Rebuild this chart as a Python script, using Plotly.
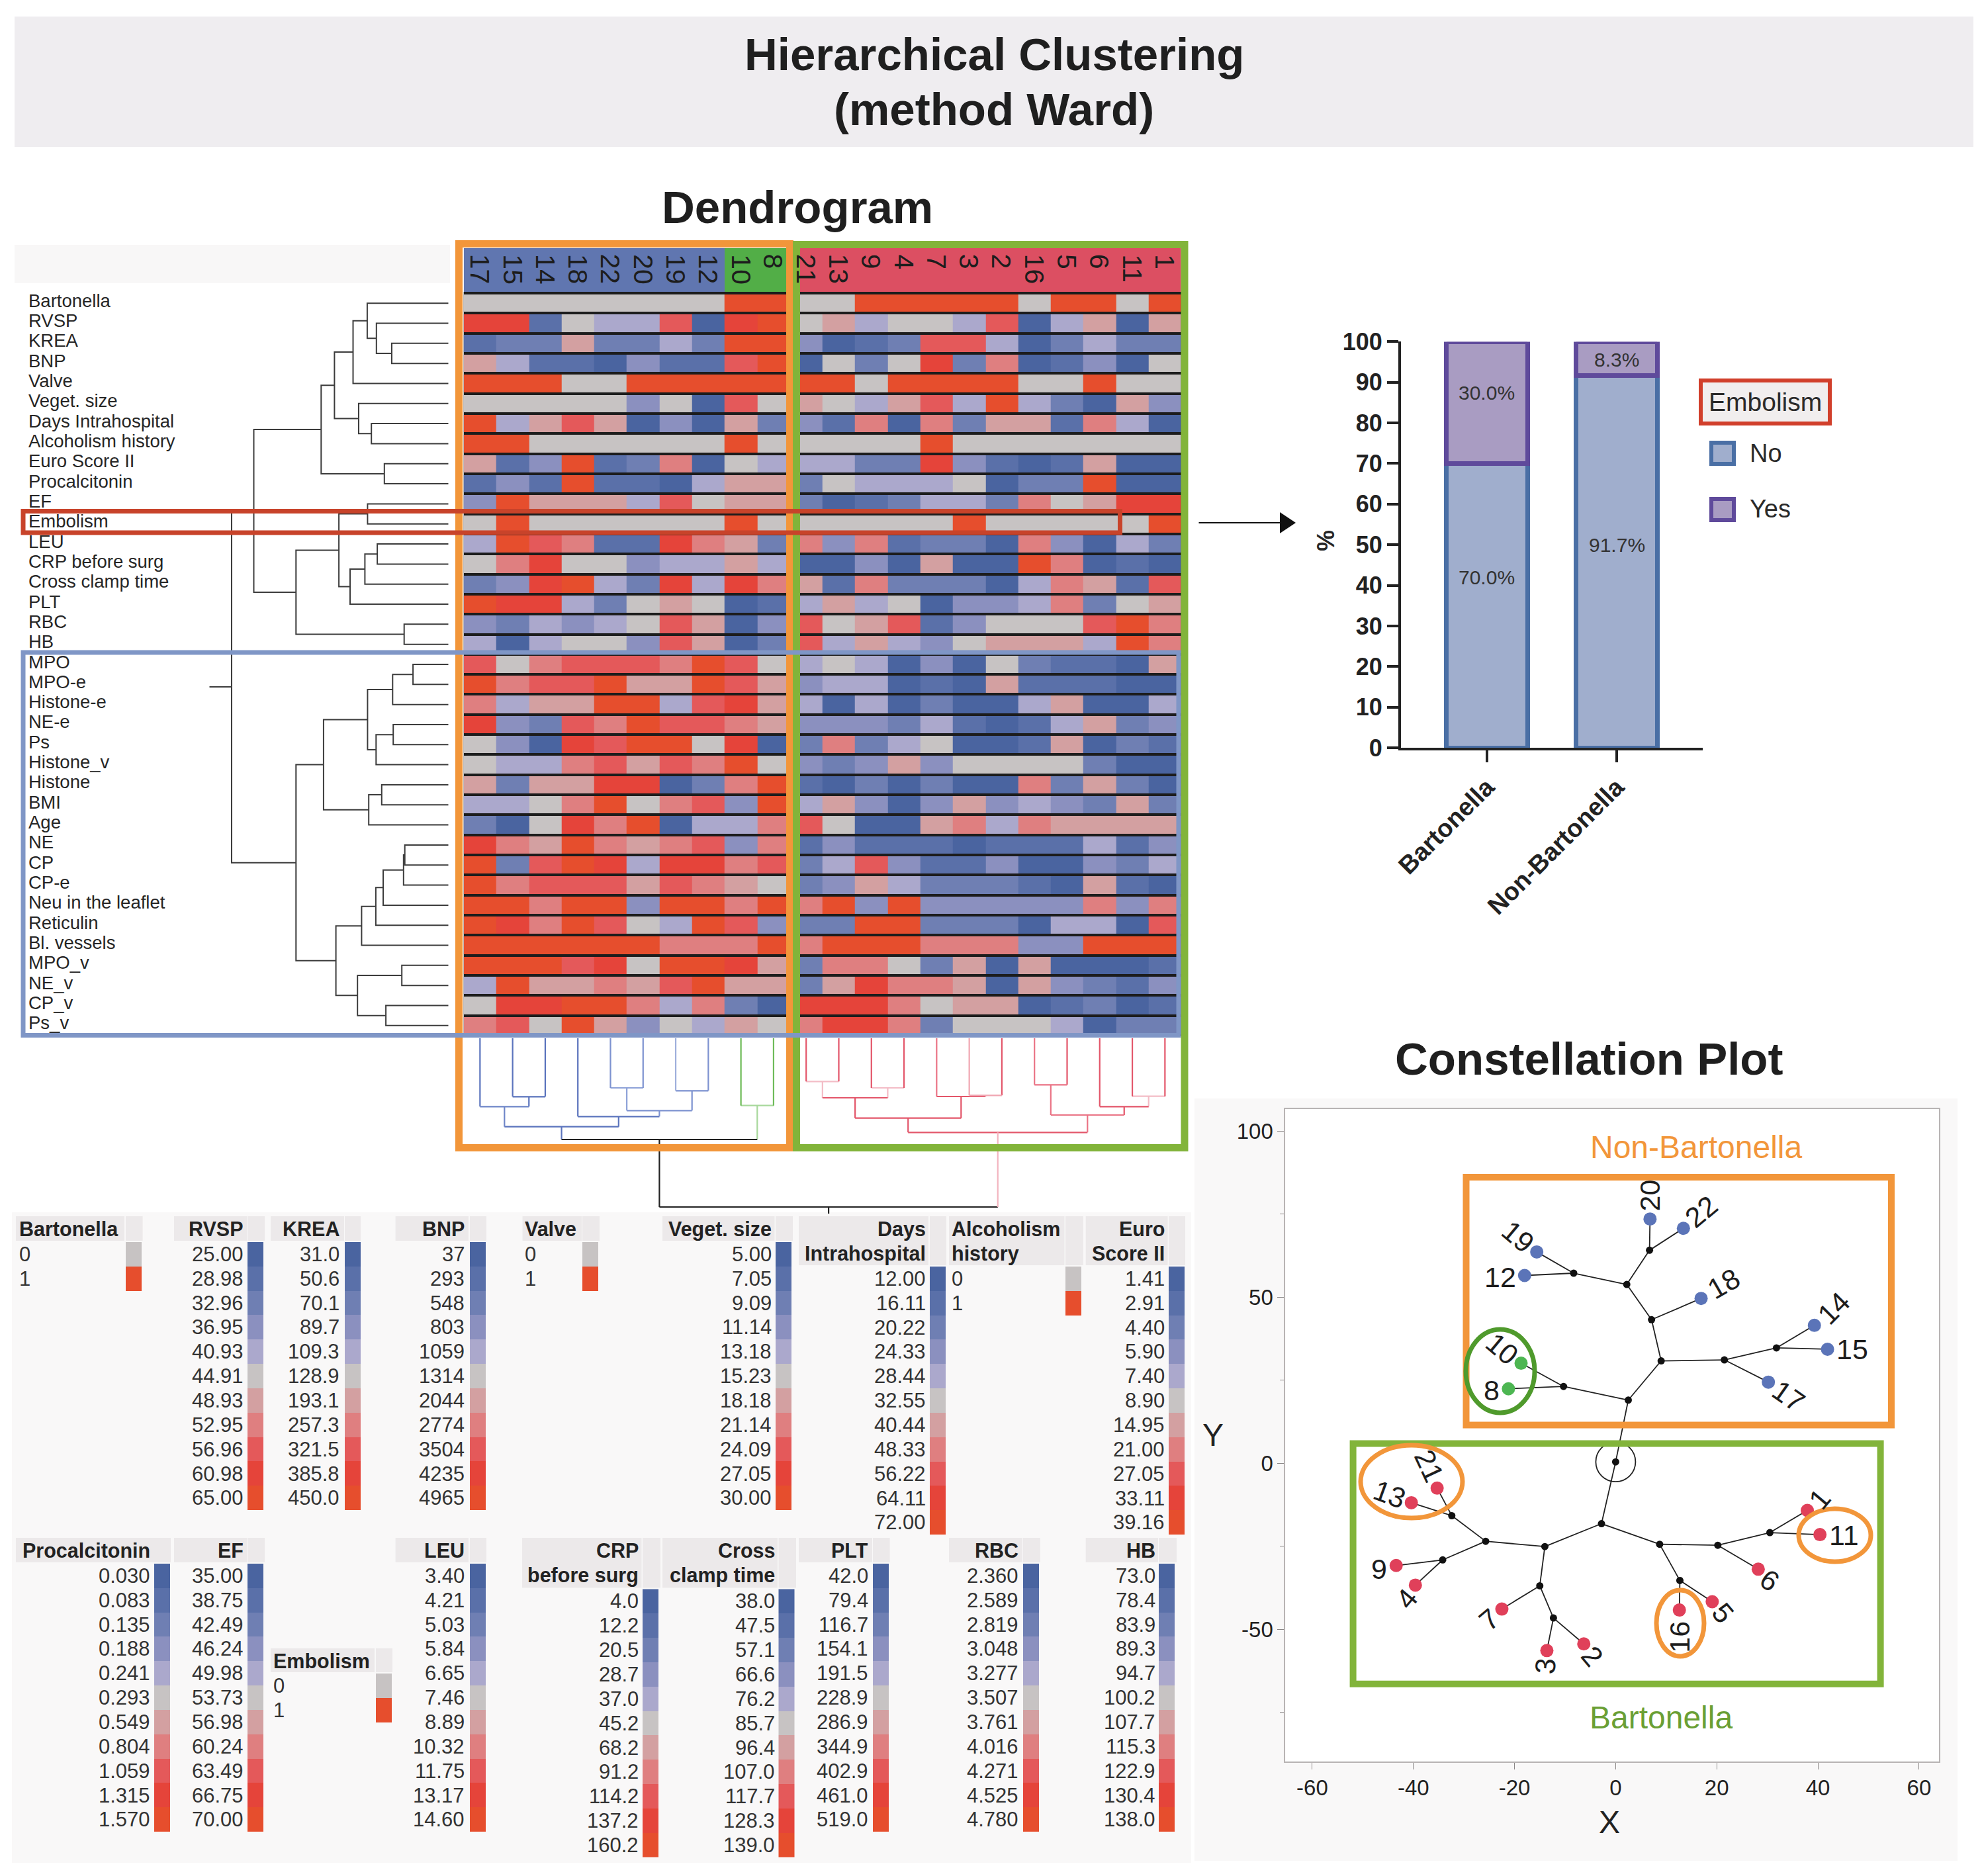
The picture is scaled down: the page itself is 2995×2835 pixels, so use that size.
import plotly.graph_objects as go

W, H = 2995, 2835
FONT = "Liberation Sans"
INK = "#262626"

# ---------- DATA ----------
PALETTE = ["#4a64a0", "#5a70a9", "#6f7fb3", "#8b90bf", "#aba8cc", "#c7c3c3",
           "#d3a0a1", "#df7f80", "#e4595a", "#e5443a", "#e64e2d"]

PATIENTS = ["17", "15", "14", "18", "22", "20", "19", "12", "10", "8",
            "21", "13", "9", "4", "7", "3", "2", "16", "5", "6", "11", "1"]
PATIENT_GROUP = [0, 0, 0, 0, 0, 0, 0, 0, 1, 1, 2, 2, 2, 2, 2, 2, 2, 2, 2, 2, 2, 2]

VARIABLES = ["Bartonella", "RVSP", "KREA", "BNP", "Valve", "Veget. size", "Days Intrahospital",
             "Alcoholism history", "Euro Score II", "Procalcitonin", "EF", "Embolism", "LEU",
             "CRP before surg", "Cross clamp time", "PLT", "RBC", "HB", "MPO", "MPO-e", "Histone-e",
             "NE-e", "Ps", "Histone_v", "Histone", "BMI", "Age", "NE", "CP", "CP-e",
             "Neu in the leaflet", "Reticulin", "Bl. vessels", "MPO_v", "NE_v", "CP_v", "Ps_v"]

LEVELS = [
    [5, 5, 5, 5, 5, 5, 5, 5, 10, 10, 5, 5, 10, 10, 10, 10, 10, 5, 10, 10, 5, 10],
    [9, 9, 1, 5, 4, 4, 8, 0, 9, 10, 5, 6, 4, 5, 5, 4, 8, 0, 4, 6, 0, 6],
    [1, 2, 2, 6, 2, 2, 4, 2, 10, 10, 3, 0, 1, 2, 8, 8, 4, 0, 2, 4, 2, 2],
    [6, 4, 1, 1, 0, 3, 1, 1, 8, 10, 0, 5, 2, 5, 9, 2, 7, 0, 1, 3, 0, 5],
    [10, 10, 10, 5, 5, 10, 10, 10, 10, 10, 10, 10, 5, 10, 10, 10, 10, 5, 5, 10, 5, 5],
    [5, 5, 5, 5, 5, 3, 5, 0, 8, 5, 6, 5, 4, 6, 8, 4, 10, 4, 2, 0, 6, 3],
    [10, 4, 6, 8, 6, 0, 3, 0, 6, 2, 3, 1, 7, 0, 7, 2, 6, 6, 1, 7, 4, 0],
    [10, 10, 5, 5, 5, 5, 5, 5, 10, 5, 5, 5, 5, 5, 10, 5, 5, 5, 5, 5, 5, 5],
    [6, 1, 3, 10, 1, 2, 7, 0, 5, 4, 4, 4, 2, 2, 9, 3, 1, 0, 1, 6, 0, 0],
    [1, 3, 1, 10, 1, 1, 0, 4, 6, 6, 2, 5, 4, 4, 4, 5, 0, 2, 2, 10, 0, 0],
    [3, 10, 6, 6, 6, 4, 8, 5, 6, 6, 2, 0, 1, 2, 4, 4, 2, 7, 5, 6, 9, 9],
    [5, 10, 5, 5, 5, 5, 5, 5, 10, 5, 5, 5, 5, 5, 5, 10, 5, 5, 5, 5, 5, 10],
    [4, 10, 8, 7, 1, 1, 9, 7, 6, 2, 7, 3, 7, 1, 2, 2, 0, 7, 3, 0, 4, 2],
    [5, 7, 9, 5, 5, 3, 4, 4, 6, 4, 0, 0, 3, 0, 6, 0, 0, 10, 7, 0, 1, 0],
    [2, 3, 9, 10, 4, 2, 9, 4, 9, 7, 6, 1, 7, 2, 2, 2, 0, 4, 7, 6, 1, 8],
    [10, 9, 9, 4, 2, 5, 6, 5, 0, 1, 4, 6, 4, 5, 0, 3, 3, 4, 7, 2, 5, 6],
    [3, 2, 4, 3, 4, 5, 8, 6, 0, 3, 8, 5, 6, 8, 1, 3, 5, 5, 5, 8, 10, 7],
    [4, 0, 4, 5, 5, 3, 8, 6, 0, 2, 8, 4, 6, 4, 3, 5, 6, 6, 6, 4, 10, 7],
    [8, 5, 7, 8, 8, 8, 7, 10, 8, 5, 4, 5, 4, 0, 3, 0, 5, 2, 1, 1, 0, 6],
    [10, 7, 8, 8, 10, 6, 6, 10, 8, 6, 3, 4, 4, 0, 1, 0, 6, 1, 1, 1, 0, 0],
    [7, 4, 6, 6, 10, 10, 4, 8, 9, 6, 4, 0, 4, 0, 2, 0, 0, 4, 6, 0, 0, 4],
    [9, 3, 2, 8, 7, 10, 8, 8, 7, 6, 3, 3, 3, 2, 4, 1, 0, 1, 4, 6, 2, 3],
    [5, 3, 0, 9, 8, 10, 10, 5, 9, 0, 2, 7, 2, 4, 5, 0, 0, 1, 6, 0, 2, 1],
    [5, 4, 4, 7, 8, 6, 8, 7, 10, 5, 3, 2, 3, 6, 3, 5, 5, 5, 5, 2, 0, 0],
    [6, 2, 6, 6, 9, 9, 0, 2, 7, 10, 1, 0, 2, 0, 2, 0, 0, 7, 2, 6, 2, 0],
    [4, 4, 5, 7, 10, 5, 7, 8, 3, 10, 4, 6, 3, 0, 3, 6, 3, 4, 3, 2, 6, 2],
    [2, 0, 5, 9, 7, 10, 0, 4, 4, 7, 8, 5, 0, 0, 6, 7, 4, 7, 6, 6, 6, 6],
    [9, 7, 6, 10, 7, 6, 7, 8, 3, 7, 1, 3, 1, 1, 1, 0, 1, 1, 1, 4, 1, 3],
    [10, 2, 8, 10, 9, 4, 9, 9, 7, 8, 2, 4, 8, 3, 1, 1, 3, 0, 0, 3, 2, 4],
    [10, 7, 8, 8, 8, 6, 8, 7, 6, 5, 2, 3, 6, 4, 2, 2, 2, 1, 0, 6, 1, 0],
    [10, 10, 7, 10, 10, 3, 10, 10, 7, 10, 7, 10, 3, 10, 3, 3, 3, 3, 3, 7, 3, 7],
    [10, 9, 7, 10, 8, 5, 4, 10, 8, 3, 2, 2, 10, 10, 2, 2, 2, 0, 4, 4, 0, 8],
    [10, 10, 10, 10, 10, 10, 7, 7, 7, 10, 7, 10, 10, 10, 7, 7, 7, 3, 3, 10, 10, 10],
    [10, 10, 10, 8, 9, 5, 10, 10, 9, 6, 2, 7, 7, 5, 2, 6, 0, 6, 0, 0, 0, 1],
    [4, 10, 6, 6, 7, 6, 8, 10, 6, 6, 2, 6, 9, 7, 7, 6, 0, 6, 3, 2, 1, 3],
    [5, 9, 9, 10, 10, 7, 4, 7, 2, 0, 9, 9, 9, 7, 5, 6, 6, 0, 1, 2, 0, 1],
    [7, 8, 5, 10, 6, 3, 5, 4, 6, 5, 7, 9, 9, 7, 2, 5, 5, 5, 4, 0, 2, 2],
]

# row dendrogram: children (leaf index, or 37 + merge index) and merge distance
ROW_A = [2, 1, 0, 39, 6, 5, 40, 8, 43, 10, 12, 47, 48, 46, 16, 50, 45,
         18, 54, 21, 56, 55, 24, 59, 58, 27, 62, 63, 64, 65, 33, 35, 67, 66, 61, 53]
ROW_B = [3, 37, 38, 4, 7, 41, 42, 9, 44, 11, 13, 14, 15, 49, 17, 51, 52,
         19, 20, 22, 23, 57, 25, 26, 60, 28, 29, 30, 31, 32, 34, 36, 68, 69, 70, 71]
ROW_H = [85.7, 108.9, 122.8, 144.2, 116.5, 135.7, 172.3, 96.9, 192.4, 122.3, 107.6, 126.3,
         148.7, 165.6, 67, 230.4, 294.2, 53.6, 84.4, 83.5, 109.4, 122.3, 100.9, 120.5, 188.8,
         66, 67.9, 98.7, 109.8, 131.3, 70.5, 94.6, 137.5, 170.1, 230.4, 327.7]
ROW_STUB = 361.2

# column dendrogram: children (leaf index, or 22 + merge index) and merge distance
COL_A = [1, 0, 4, 6, 24, 3, 23, 8, 28, 10, 12, 31, 15, 14, 33, 17, 20, 19, 37, 36, 30]
COL_B = [2, 22, 5, 7, 25, 26, 27, 9, 29, 11, 13, 32, 16, 34, 35, 18, 21, 38, 39, 40, 41]
COL_H = [88.3, 103.3, 75, 79.3, 109.3, 118.3, 133.7, 101.7, 153, 65.3, 75, 90, 86.3, 88,
         120.7, 70.3, 87.7, 103.3, 116, 142.3, 255]
COL_C = ["#5b74bd", "#6f86c8", "#8ea2d8", "#7d92d0", "#7d92d0", "#5b74bd", "#5b74bd", "#a8d89c",
         "#222222", "#f3bcc6", "#f3bcc6", "#e3566a", "#f0a6b2", "#e3566a", "#e3566a", "#ea7385",
         "#f3bcc6", "#e3566a", "#ea7385", "#e3566a", "#222222"]
COL_LEAF_C = ["#5b74bd", "#5b74bd", "#5b74bd", "#5b74bd", "#7d92d0", "#7d92d0", "#9fb0dc", "#7d92d0", "#6dbb58", "#6dbb58",
              "#e3566a", "#e3566a", "#e3566a", "#e3566a", "#ea7385", "#f0a6b2", "#e3566a", "#ea7385", "#e3566a", "#e3566a",
              "#e3566a", "#e3566a"]
COL_STUB = 265

BAR_GROUPS = ["Bartonella", "Non-Bartonella"]
EMBOLISM_NO = [70.0, 91.7]
EMBOLISM_YES = [30.0, 8.3]

LEAF_ID = ["20", "22", "19", "12", "18", "14", "15", "17", "10", "8", "21", "13", "9", "4", "7", "3", "2", "16", "5", "6", "1", "11"]
LEAF_X = [6.8, 13.4, -15.6, -18.0, 16.9, 39.3, 41.9, 30.2, -18.7, -21.2, -35.3, -40.4, -43.4, -39.6, -22.5, -13.6, -6.3, 12.6, 19.1, 28.2, 37.9, 40.4]
LEAF_Y = [73.5, 70.7, 63.6, 56.5, 49.6, 41.5, 34.3, 24.4, 30.1, 22.4, -7.5, -11.9, -30.8, -36.7, -43.9, -56.4, -54.4, -44.2, -41.7, -31.9, -14.2, -21.5]
LEAF_GROUP = ["b", "b", "b", "b", "b", "b", "b", "b", "g", "g", "r", "r", "r", "r", "r", "r", "r", "r", "r", "r", "r", "r"]
NODE_X = [0.0, 2.5, -10.3, 9.0, 21.5, 31.8, 7.1, 2.2, -8.3, 6.7, -2.8, -14.0, -25.7, -32.4, -34.2, -15.0, -12.3, 8.7, 20.2, 30.5, 12.7]
NODE_Y = [0.4, 19.0, 23.1, 30.8, 31.1, 34.7, 43.2, 53.8, 57.2, 64.1, -18.2, -25.1, -23.5, -15.8, -29.1, -36.9, -46.6, -24.4, -24.7, -20.9, -35.3]
# branches: parent node index -> child, "nK" is a node, otherwise a patient
BRANCHES = [("n0", "n1"), ("n0", "n10"), ("n1", "n2"), ("n2", "10"), ("n2", "8"), ("n1", "n3"), ("n3", "n4"),
            ("n4", "17"), ("n4", "n5"), ("n5", "14"), ("n5", "15"), ("n3", "n6"), ("n6", "18"), ("n6", "n7"),
            ("n7", "n8"), ("n8", "19"), ("n8", "12"), ("n7", "n9"), ("n9", "20"), ("n9", "22"),
            ("n10", "n11"), ("n11", "n12"), ("n12", "n13"), ("n13", "21"), ("n13", "13"), ("n12", "n14"),
            ("n14", "9"), ("n14", "4"), ("n11", "n15"), ("n15", "7"), ("n15", "n16"), ("n16", "3"), ("n16", "2"),
            ("n10", "n17"), ("n17", "n18"), ("n18", "6"), ("n18", "n19"), ("n19", "1"), ("n19", "11"),
            ("n17", "n20"), ("n20", "16"), ("n20", "5")]

BARTONELLA_T = ["0", "1"]
VALVE_T = ["0", "1"]
ALCOHOL_T = ["0", "1"]
EMBOLISM_T = ["0", "1"]
RVSP_T = ["25.00", "28.98", "32.96", "36.95", "40.93", "44.91", "48.93", "52.95", "56.96", "60.98", "65.00"]
KREA_T = ["31.0", "50.6", "70.1", "89.7", "109.3", "128.9", "193.1", "257.3", "321.5", "385.8", "450.0"]
BNP_T = ["37", "293", "548", "803", "1059", "1314", "2044", "2774", "3504", "4235", "4965"]
VEGET_T = ["5.00", "7.05", "9.09", "11.14", "13.18", "15.23", "18.18", "21.14", "24.09", "27.05", "30.00"]
DAYS_T = ["12.00", "16.11", "20.22", "24.33", "28.44", "32.55", "40.44", "48.33", "56.22", "64.11", "72.00"]
EURO_T = ["1.41", "2.91", "4.40", "5.90", "7.40", "8.90", "14.95", "21.00", "27.05", "33.11", "39.16"]
PROCAL_T = ["0.030", "0.083", "0.135", "0.188", "0.241", "0.293", "0.549", "0.804", "1.059", "1.315", "1.570"]
EF_T = ["35.00", "38.75", "42.49", "46.24", "49.98", "53.73", "56.98", "60.24", "63.49", "66.75", "70.00"]
LEU_T = ["3.40", "4.21", "5.03", "5.84", "6.65", "7.46", "8.89", "10.32", "11.75", "13.17", "14.60"]
CRP_T = ["4.0", "12.2", "20.5", "28.7", "37.0", "45.2", "68.2", "91.2", "114.2", "137.2", "160.2"]
CROSS_T = ["38.0", "47.5", "57.1", "66.6", "76.2", "85.7", "96.4", "107.0", "117.7", "128.3", "139.0"]
PLT_T = ["42.0", "79.4", "116.7", "154.1", "191.5", "228.9", "286.9", "344.9", "402.9", "461.0", "519.0"]
RBC_T = ["2.360", "2.589", "2.819", "3.048", "3.277", "3.507", "3.761", "4.016", "4.271", "4.525", "4.780"]
HB_T = ["73.0", "78.4", "83.9", "89.3", "94.7", "100.2", "107.7", "115.3", "122.9", "130.4", "138.0"]

# ---------- LAYOUT HELPERS ----------
def xd(a, b):
    return [a / W, b / W]

def yd(top, bottom):
    return [1 - bottom / H, 1 - top / H]

def px(v):
    return v / W

def py(v):
    return 1 - v / H

shapes, notes, traces = [], [], []

def rect(x0, y0, x1, y1, fill=None, line=None, lw=0, layer="below", kind="rect"):
    shapes.append(dict(type=kind, xref="paper", yref="paper", x0=px(x0), x1=px(x1), y0=py(y0), y1=py(y1),
                       fillcolor=fill or "rgba(0,0,0,0)", line=dict(color=line or "rgba(0,0,0,0)", width=lw),
                       layer=layer))

def text(x, y, s, size, color=INK, anchor="center", angle=0, bold=False, vanchor="middle"):
    notes.append(dict(xref="paper", yref="paper", x=px(x), y=py(y), text=f"<b>{s}</b>" if bold else s,
                      showarrow=False, xanchor=anchor, yanchor=vanchor, textangle=angle,
                      font=dict(family=FONT, size=size, color=color)))

def frame(x0, y0, x1, y1, color, lw, layer="above"):
    rect(x0, y0, x1, y1, line=color, lw=lw, layer=layer)

COLORSCALE = [[i / 10, c] for i, c in enumerate(PALETTE)]

# ---------- BACKGROUND PANELS ----------
rect(22, 25, 2982, 222, fill="#efedf0")
rect(22, 370, 680, 428, fill="#f8f7f7")
rect(18, 1832, 1800, 2815, fill="#f9f8f8")
rect(1805, 1660, 2958, 2812, fill="#f9f8f8")
rect(1942.4, 1676, 2929.7, 2661.5, fill="#ffffff")
rect(700.7, 441, 1785, 1566, fill="#1c1c1c")

text(1502, 82, "Hierarchical Clustering", 69, "#1f1f1f", bold=True)
text(1502, 166, "(method Ward)", 69, "#1f1f1f", bold=True)
text(1205, 313, "Dendrogram", 69, "#1f1f1f", bold=True)
text(2401, 1600, "Constellation Plot", 69, "#1f1f1f", bold=True)

# ---------- HEATMAP ----------
traces.append(go.Heatmap(z=LEVELS, xaxis="x2", yaxis="y2", zmin=0, zmax=10, colorscale=COLORSCALE,
                         showscale=False, ygap=4, hoverinfo="skip"))
traces.append(go.Heatmap(z=[PATIENT_GROUP], xaxis="x2", yaxis="y3", zmin=0, zmax=2,
                         colorscale=[[0, "#6076b0"], [0.5, "#52ae47"], [1, "#dc4f62"]],
                         showscale=False, hoverinfo="skip"))
for i, p in enumerate(PATIENTS):
    notes.append(dict(xref="x2", yref="paper", x=i, y=py(382), text=p, showarrow=False, xanchor="center",
                      yanchor="top", textangle=90, font=dict(family=FONT, size=41, color="#1d1d1d")))
for i, v in enumerate(VARIABLES):
    notes.append(dict(xref="paper", yref="y2", x=px(41), y=i, yshift=4, text=v, showarrow=False, xanchor="left",
                      yanchor="middle", font=dict(family=FONT, size=27.5, color=INK)))

# ---------- DENDROGRAMS ----------
def tree(n, A, B, Hs):
    pos = {i: float(i) for i in range(n)}
    hgt = {i: 0.0 for i in range(n)}
    for k, (a, b, h) in enumerate(zip(A, B, Hs)):
        pos[n + k] = (pos[a] + pos[b]) / 2
        hgt[n + k] = h
    return pos, hgt

pos, hgt = tree(37, ROW_A, ROW_B, ROW_H)
xs, ys = [], []
for k, (a, b, h) in enumerate(zip(ROW_A, ROW_B, ROW_H)):
    xs += [hgt[a], h, h, hgt[b], None]
    ys += [pos[a], pos[a], pos[b], pos[b], None]
xs += [ROW_H[-1], ROW_STUB]
ys += [pos[37 + len(ROW_H) - 1]] * 2
traces.append(go.Scatter(x=xs, y=ys, xaxis="x3", yaxis="y2", mode="lines",
                         line=dict(color="#3c3c3c", width=2), hoverinfo="skip"))

pos, hgt = tree(22, COL_A, COL_B, COL_H)
colour_of = {i: c for i, c in enumerate(COL_LEAF_C)}
for k, c in enumerate(COL_C):
    colour_of[22 + k] = c
segments = {}
def add_seg(c, x0, y0, x1, y1):
    s = segments.setdefault(c, ([], []))
    s[0].extend([x0, x1, None])
    s[1].extend([y0, y1, None])
for k, (a, b, h) in enumerate(zip(COL_A, COL_B, COL_H)):
    add_seg(COL_C[k], pos[a], h, pos[b], h)
    for ch in (a, b):
        add_seg("#f3b4bf" if ch == 41 else colour_of[ch], pos[ch], hgt[ch], pos[ch], h)
add_seg("#222222", pos[42], COL_H[-1], pos[42], COL_STUB)
for c, (sx, sy) in segments.items():
    traces.append(go.Scatter(x=sx, y=sy, xaxis="x2", yaxis="y4", mode="lines", line=dict(color=c, width=2.2),
                             hoverinfo="skip"))

# ---------- FRAMES ON THE HEATMAP ----------
frame(693.5, 368.5, 1193.5, 1734.5, "#f2963a", 11)
frame(1203.5, 369.5, 1790, 1734.5, "#82b43a", 11)
frame(35, 772.5, 1692.5, 805, "#c8432a", 7)
frame(35, 986, 1781, 1564.5, "#7f96c6", 7)

# ---------- SCALE LEGENDS ----------
CELL = 36.85
def scale(title, ticks, align, tx, hx0, hx1, sx0, sx1, top, stop):
    rect(hx0, top, hx1, stop - 2, fill="#ece9ea")
    rect(sx0, top, sx1, stop - 2, fill="#ece9ea")
    for j, t in enumerate(title):
        text(tx, top + 19 + j * 37.5, t, 30.5, "#222222", anchor=align, bold=True)
    codes = list(range(11)) if len(ticks) == 11 else [5, 10]
    for j, t in enumerate(ticks):
        text(tx, stop + CELL * (j + 0.5), t, 31, "#333333", anchor=align)
    traces.append(go.Heatmap(z=[[c] for c in codes], x0=sx0 + 12, dx=24, y0=stop + CELL / 2, dy=CELL, xaxis="x", yaxis="y",
                             zmin=0, zmax=10, colorscale=COLORSCALE, showscale=False, hoverinfo="skip"))

scale(["Bartonella"], BARTONELLA_T, "left", 27, 24, 188, 190, 215.6, 1838, 1877)
scale(["RVSP"], RVSP_T, "right", 369.5, 263, 373, 374, 400, 1838, 1877)
scale(["KREA"], KREA_T, "right", 514.5, 409, 520, 521, 545, 1838, 1877)
scale(["BNP"], BNP_T, "right", 704, 597.6, 708, 710, 735, 1838, 1877)
scale(["Valve"], VALVE_T, "left", 791, 789.5, 879, 880, 906, 1838, 1877)
scale(["Veget. size"], VEGET_T, "right", 1168, 1001, 1170.5, 1172, 1198, 1838, 1877)
scale(["Days", "Intrahospital"], DAYS_T, "right", 1400.5, 1207, 1403, 1405, 1430, 1838, 1914)
scale(["Alcoholism", "history"], ALCOHOL_T, "left", 1436, 1434, 1608.5, 1610, 1637, 1838, 1914)
scale(["Euro", "Score II"], EURO_T, "right", 1762, 1640.7, 1764.6, 1766, 1791, 1838, 1914)
scale(["Procalcitonin"], PROCAL_T, "right", 229, 24, 233, 233, 258, 2324, 2363)
scale(["EF"], EF_T, "right", 369.5, 263, 373, 374, 400, 2324, 2363)
scale(["Embolism"], EMBOLISM_T, "left", 411, 409, 566, 568, 593, 2491, 2529)
scale(["LEU"], LEU_T, "right", 704, 597.6, 708, 710, 735, 2324, 2363)
scale(["CRP", "before surg"], CRP_T, "right", 966.5, 789, 969.5, 971, 998, 2324, 2401.5)
scale(["Cross", "clamp time"], CROSS_T, "right", 1173, 1001, 1175, 1176.5, 1203, 2324, 2401.5)
scale(["PLT"], PLT_T, "right", 1314, 1207, 1318, 1319, 1344.6, 2324, 2363)
scale(["RBC"], RBC_T, "right", 1541, 1434, 1545, 1546, 1572, 2324, 2363)
scale(["HB"], HB_T, "right", 1747.5, 1640.7, 1750, 1751, 1778, 2324, 2363)

# ---------- STACKED BARS ----------
traces.append(go.Bar(x=BAR_GROUPS, y=EMBOLISM_NO, name="No", xaxis="x4", yaxis="y5", width=0.625,
                     marker=dict(color="#a0aecd", line=dict(color="#4a6fa5", width=7)), cliponaxis=False))
traces.append(go.Bar(x=BAR_GROUPS, y=EMBOLISM_YES, name="Yes", xaxis="x4", yaxis="y5", width=0.625,
                     marker=dict(color="#a99cc2", line=dict(color="#5f4a9b", width=7)), cliponaxis=False))
BAR_LABEL_AT_NO = [42, 50]
BAR_LABEL_AT_YES = [87.5, 95.6]
for g, v, at in zip(BAR_GROUPS, EMBOLISM_NO, BAR_LABEL_AT_NO):
    notes.append(dict(xref="x4", yref="y5", x=g, y=at, text=f"{v:.1f}%", showarrow=False,
                      font=dict(family=FONT, size=30, color="#333333")))
for g, v, at in zip(BAR_GROUPS, EMBOLISM_YES, BAR_LABEL_AT_YES):
    notes.append(dict(xref="x4", yref="y5", x=g, y=at, text=f"{v:.1f}%", showarrow=False,
                      font=dict(family=FONT, size=30, color="#333333")))
text(2003, 817, "%", 36, INK, angle=-90, bold=True)
rect(2570, 575, 2765, 640, fill="#f1eeee", line="#d13f2b", lw=6, layer="above")
text(2667.5, 607.5, "Embolism", 39, "#2a2a2a")
rect(2586, 669, 2620, 701, fill="#a0aecd", line="#4a6fa5", lw=6, layer="above")
rect(2586, 754, 2620, 786, fill="#a99cc2", line="#5f4a9b", lw=6, layer="above")
text(2642, 685, "No", 38, "#2a2a2a", anchor="left")
text(2642, 769, "Yes", 38, "#2a2a2a", anchor="left")
rect(1811.5, 789, 1936, 791, fill="#111111", layer="above")
shapes.append(dict(type="path", xref="paper", yref="paper", layer="above", fillcolor="#111111", line=dict(width=0),
                   path=f"M {px(1934)} {py(774)} L {px(1958)} {py(790)} L {px(1934)} {py(806)} Z"))

# ---------- CONSTELLATION ----------
lookup = {i: (x, y) for i, x, y in zip(LEAF_ID, LEAF_X, LEAF_Y)}
lookup.update({f"n{k}": (x, y) for k, (x, y) in enumerate(zip(NODE_X, NODE_Y))})
bx, by = [], []
for a, b in BRANCHES:
    bx += [lookup[a][0], lookup[b][0], None]
    by += [lookup[a][1], lookup[b][1], None]
traces.append(go.Scatter(x=bx, y=by, xaxis="x5", yaxis="y6", mode="lines", line=dict(color="#222222", width=1.8),
                         hoverinfo="skip"))
traces.append(go.Scatter(x=NODE_X, y=NODE_Y, xaxis="x5", yaxis="y6", mode="markers",
                         marker=dict(color="#111111", size=11), hoverinfo="skip"))
traces.append(go.Scatter(x=NODE_X[:1], y=NODE_Y[:1], xaxis="x5", yaxis="y6", mode="markers",
                         marker=dict(color="rgba(0,0,0,0)", size=60, line=dict(color="#222222", width=1.8)), hoverinfo="skip"))
GROUP_COLOR = {"b": "#5b74b8", "g": "#4db652", "r": "#e0405a"}
traces.append(go.Scatter(x=LEAF_X, y=LEAF_Y, xaxis="x5", yaxis="y6", mode="markers",
                         marker=dict(color=[GROUP_COLOR[g] for g in LEAF_GROUP], size=20), hoverinfo="skip"))
LABEL_DX = [0, 27, -28, -37, 34, 29, 37, 31, -29, -25, -12, -33, -26, -13, -19, -2, 13, 0, 17, 17, 19, 36]
LABEL_DY = [-36, -25, -23, 2, -22, -26, 0, 21, -22, 2, -34, -13, 5, 21, 15, 23, 19, 41, 17, 17, -17, 1]
LABEL_ANGLE = [-90, -40, 40, 0, -30, -45, 0, 35, 40, 0, 65, 20, 0, -50, -40, -85, 50, -90, 50, 35, -50, 0]
for i, x, y, dx, dy, ang in zip(LEAF_ID, LEAF_X, LEAF_Y, LABEL_DX, LABEL_DY, LABEL_ANGLE):
    notes.append(dict(xref="x5", yref="y6", x=x, y=y, xshift=dx, yshift=-dy, text=i, showarrow=False, textangle=ang,
                      font=dict(family=FONT, size=43, color="#1d1d1d")))
frame(2215.5, 1779, 2858, 2153.5, "#f2963a", 10)
frame(2044.6, 2181.6, 2841.6, 2544.7, "#82b43a", 10)
rect(2215, 2009, 2319, 2135, line="#4f9a2c", lw=7, layer="above", kind="circle")
rect(2056, 2184, 2210, 2294, line="#f2963a", lw=7, layer="above", kind="circle")
rect(2718, 2280, 2827, 2360, line="#f2963a", lw=7, layer="above", kind="circle")
rect(2503, 2403, 2575, 2503, line="#f2963a", lw=7, layer="above", kind="circle")
text(2563, 1733, "Non-Bartonella", 48, "#f2963a")
text(2510, 2595, "Bartonella", 48, "#6a9f35")
text(2432, 2753, "X", 48, "#222222")
text(1833, 2168, "Y", 48, "#222222")

# ---------- FIGURE ----------
XT = [-60, -40, -20, 0, 20, 40, 60]
YT = [-50, 0, 50, 100]
hidden = dict(visible=False, showgrid=False, zeroline=False, fixedrange=True, automargin=False)
fig = go.Figure(traces)
fig.update_layout(
    width=W, height=H, margin=dict(l=0, r=0, t=0, b=0, pad=0, autoexpand=False), showlegend=False, barmode="stack",
    paper_bgcolor="#ffffff", plot_bgcolor="rgba(0,0,0,0)", shapes=shapes, annotations=notes,
    font=dict(family=FONT, color=INK),
    xaxis=dict(hidden, domain=[0, 1], range=[0, W]),
    yaxis=dict(hidden, domain=[0, 1], range=[H, 0]),
    xaxis2=dict(hidden, domain=xd(700.7, 1785), range=[-0.5, 21.5], anchor="y2"),
    yaxis2=dict(hidden, domain=yd(443, 1565), range=[36.5, -0.5], anchor="x2"),
    yaxis3=dict(hidden, domain=yd(375, 441), range=[-0.5, 0.5], anchor="x2"),
    yaxis4=dict(hidden, domain=yd(1569, 1880), range=[311, 0], anchor="x2"),
    xaxis3=dict(hidden, domain=xd(0, 677.7), range=[677.7, 0], anchor="y2"),
    xaxis4=dict(domain=xd(2117, 2573), range=[-0.663, 1.663], anchor="y5", type="category", showgrid=False, zeroline=False,
                automargin=False, showline=True, linecolor="#222222", linewidth=4, ticks="outside", ticklen=18, tickwidth=4,
                tickcolor="#222222", tickangle=-45, tickvals=BAR_GROUPS, ticktext=[f"<b>{g}</b>" for g in BAR_GROUPS],
                tickfont=dict(family=FONT, size=38, color="#222222")),
    yaxis5=dict(domain=yd(516.4, 1130), range=[0, 100], anchor="x4", showgrid=False, zeroline=False, showline=True,
                automargin=False, linecolor="#222222", linewidth=4, ticks="outside", ticklen=17, tickwidth=4, tickcolor="#222222",
                dtick=10, tickfont=dict(family=FONT, size=36, color="#222222", weight=700)),
    xaxis5=dict(domain=xd(1942.4, 2929.7), range=[-65.3, 63.9], anchor="y6", showgrid=False, zeroline=False, showline=True,
                automargin=False, mirror=True, linecolor="#b8b4b4", linewidth=2, ticks="outside", ticklen=10, tickcolor="#8a8686",
                tickvals=XT, ticktext=[str(v) for v in XT], tickfont=dict(family=FONT, size=33, color="#222222")),
    yaxis6=dict(domain=yd(1676, 2661.5), range=[-89.7, 106.6], anchor="x5", showgrid=False, zeroline=False, showline=True,
                automargin=False, mirror=True, linecolor="#b8b4b4", linewidth=2, ticks="outside", ticklen=10, tickcolor="#8a8686",
                tickvals=YT, ticktext=[str(v) for v in YT], tickfont=dict(family=FONT, size=33, color="#222222"),
                minor=dict(tickvals=[-75, -25, 25, 75], ticks="outside", ticklen=6, tickcolor="#8a8686")),
)
fig.write_html("out.html", config={"displayModeBar": False},
               post_script="document.documentElement.style.margin='0';document.documentElement.style.padding='0';"
                           "document.documentElement.style.overflow='hidden';"
                           "document.body.style.margin='0';document.body.style.padding='0';"
                           "document.body.style.overflow='hidden';")
